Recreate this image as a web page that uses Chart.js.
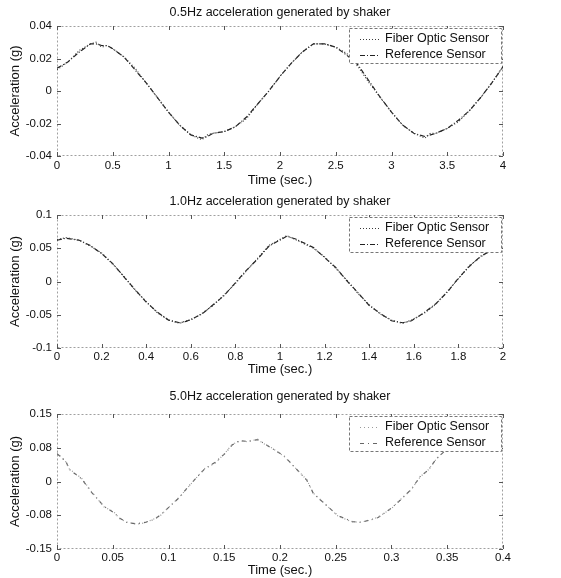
<!DOCTYPE html>
<html>
<head>
<meta charset="utf-8">
<script src="https://cdn.jsdelivr.net/npm/chart.js@4.4.1/dist/chart.umd.min.js"></script>
<style>
  body { margin: 0; background: #fff; width: 561px; height: 578px; position: relative; overflow: hidden; }
  canvas { position: absolute; left: 0; }
</style>
</head>
<body>
<canvas id="chart05" style="top:0px" width="561" height="190"></canvas>
<canvas id="chart10" style="top:189px" width="561" height="189"></canvas>
<canvas id="chart50" style="top:384px" width="561" height="194"></canvas>
<script>
/*          shaker acceleration: fiber optic vs reference sensor          */

const seriesLabels = ['Fiber Optic Sensor', 'Reference Sensor'];

// 0.5 Hz
const time05 = [0, 0.1, 0.2, 0.3, 0.35, 0.4, 0.45, 0.5, 0.6, 0.7, 0.8, 0.9, 1.0, 1.1, 1.2, 1.3, 1.35, 1.4, 1.5, 1.6, 1.7, 1.8, 1.9,
                2.0, 2.1, 2.2, 2.3, 2.4, 2.5, 2.6, 2.7, 2.8, 2.9, 3.0, 3.1, 3.2, 3.3, 3.35, 3.4, 3.5, 3.6, 3.7, 3.8, 3.9, 4.0];
const fiber05 = [0.013, 0.018, 0.025, 0.029, 0.030, 0.027, 0.028, 0.026, 0.021, 0.014, 0.005, -0.004, -0.013, -0.021, -0.027, -0.030, -0.027, -0.026, -0.025, -0.022, -0.017, -0.008, 0.000,
                 0.009, 0.017, 0.024, 0.029, 0.029, 0.027, 0.023, 0.015, 0.005, -0.004, -0.013, -0.021, -0.026, -0.029, -0.026, -0.026, -0.023, -0.019, -0.012, -0.004, 0.005, 0.015];
const ref05 = [0.014, 0.018, 0.024, 0.029, 0.029, 0.028, 0.028, 0.026, 0.021, 0.013, 0.005, -0.004, -0.013, -0.021, -0.027, -0.029, -0.028, -0.026, -0.025, -0.022, -0.016, -0.008, 0.000,
               0.009, 0.017, 0.024, 0.029, 0.029, 0.027, 0.022, 0.016, 0.006, -0.004, -0.013, -0.021, -0.026, -0.028, -0.027, -0.026, -0.023, -0.018, -0.012, -0.004, 0.005, 0.015];
const xTicks05 = [0, 0.5, 1, 1.5, 2, 2.5, 3, 3.5, 4];
const xLabels05 = ['0', '0.5', '1', '1.5', '2', '2.5', '3', '3.5', '4'];
const yTicks05 = [-0.04, -0.02, 0, 0.02, 0.04];
const yLabels05 = ['-0.04', '-0.02', '0', '0.02', '0.04'];

// 1.0 Hz
const time10 = [0, 0.04, 0.1, 0.15, 0.2, 0.25, 0.3, 0.35, 0.4, 0.45, 0.5, 0.55, 0.58, 0.6, 0.65, 0.7, 0.75, 0.8, 0.85, 0.9, 0.95,
                1.03, 1.07, 1.15, 1.2, 1.25, 1.3, 1.35, 1.4, 1.45, 1.5, 1.55, 1.59, 1.65, 1.7, 1.75, 1.8, 1.85, 1.9, 1.95];
const fiber10 = [0.063, 0.066, 0.062, 0.053, 0.043, 0.026, 0.008, -0.013, -0.030, -0.047, -0.058, -0.063, -0.059, -0.058, -0.048, -0.036, -0.020, -0.003, 0.016, 0.035, 0.054,
                 0.069, 0.063, 0.050, 0.037, 0.020, 0.002, -0.018, -0.035, -0.049, -0.058, -0.063, -0.058, -0.047, -0.034, -0.015, 0.004, 0.024, 0.037, 0.048];
const ref10 = [0.062, 0.065, 0.062, 0.054, 0.042, 0.027, 0.007, -0.012, -0.031, -0.046, -0.058, -0.062, -0.060, -0.057, -0.049, -0.035, -0.021, -0.002, 0.017, 0.034, 0.053,
               0.068, 0.064, 0.051, 0.036, 0.021, 0.001, -0.017, -0.036, -0.048, -0.059, -0.062, -0.059, -0.046, -0.033, -0.016, 0.005, 0.023, 0.038, 0.047];
const xTicks10 = [0, 0.2, 0.4, 0.6, 0.8, 1, 1.2, 1.4, 1.6, 1.8, 2];
const xLabels10 = ['0', '0.2', '0.4', '0.6', '0.8', '1', '1.2', '1.4', '1.6', '1.8', '2'];
const yTicks10 = [-0.1, -0.05, 0, 0.05, 0.1];
const yLabels10 = ['-0.1', '-0.05', '0', '0.05', '0.1'];

// 5.0 Hz
const time50 = [0, 0.008, 0.011, 0.022, 0.031, 0.042, 0.051, 0.056, 0.0625, 0.071, 0.079, 0.0875, 0.093, 0.11, 0.1175, 0.132, 0.142, 0.151, 0.157, 0.164,
                0.171, 0.18, 0.184, 0.1925, 0.2036, 0.224, 0.23, 0.252, 0.265, 0.273, 0.281, 0.288, 0.3, 0.308, 0.3175, 0.326, 0.333, 0.34, 0.347];
const fiber50 = [0.064, 0.043, 0.028, 0.0075, -0.0225, -0.056, -0.0675, -0.0825, -0.09, -0.095, -0.092, -0.0825, -0.075, -0.034, -0.013, 0.028, 0.041, 0.064, 0.0825, 0.09,
                 0.0885, 0.094, 0.086, 0.075, 0.056, 0.004, -0.026, -0.077, -0.09, -0.09, -0.086, -0.079, -0.06, -0.04, -0.019, 0.011, 0.026, 0.049, 0.0675];
const ref50 = [0.062, 0.045, 0.027, 0.006, -0.024, -0.055, -0.069, -0.081, -0.091, -0.094, -0.091, -0.084, -0.074, -0.035, -0.012, 0.027, 0.043, 0.063, 0.081, 0.091,
               0.089, 0.093, 0.087, 0.074, 0.057, 0.003, -0.027, -0.076, -0.089, -0.091, -0.085, -0.080, -0.059, -0.041, -0.018, 0.012, 0.025, 0.050, 0.066];
const xTicks50 = [0, 0.05, 0.1, 0.15, 0.2, 0.25, 0.3, 0.35, 0.4];
const xLabels50 = ['0', '0.05', '0.1', '0.15', '0.2', '0.25', '0.3', '0.35', '0.4'];
const yTicks50 = [-0.15, -0.075, 0, 0.075, 0.15];
const yLabels50 = ['-0.15', '-0.08', '0', '0.08', '0.15'];

Chart.defaults.font.family = '"Liberation Sans", Arial, sans-serif';
Chart.defaults.color = '#111';

// title centred over the plot area (matlab style), not over the whole canvas
const areaTitle = {
  id: 'areaTitle',
  afterDraw(chart, args, opts) {
    const { ctx, chartArea: a } = chart;
    ctx.save();
    ctx.font = '12.5px "Liberation Sans", Arial, sans-serif';
    ctx.fillStyle = '#111';
    ctx.textAlign = 'center';
    ctx.textBaseline = 'middle';
    ctx.fillText(opts.text, (a.left + a.right) / 2, opts.y);
    ctx.restore();
  }
};

// dotted axes box with small inward ticks
const framePlugin = {
  id: 'frame',
  beforeDatasetsDraw(chart) {
    const { ctx, chartArea: a, scales } = chart;
    ctx.save();
    ctx.lineWidth = 1;
    ctx.strokeStyle = '#a0a0a0';
    ctx.setLineDash([2, 2]);
    ctx.strokeRect(a.left + 0.5, a.top + 0.5, a.width - 1, a.height - 1);
    ctx.setLineDash([]);
    ctx.strokeStyle = '#555';
    ctx.beginPath();
    scales.x.ticks.forEach(t => {
      const px = Math.round(scales.x.getPixelForValue(t.value)) + 0.5;
      ctx.moveTo(px, a.top); ctx.lineTo(px, a.top + 4);
      ctx.moveTo(px, a.bottom); ctx.lineTo(px, a.bottom - 4);
    });
    scales.y.ticks.forEach(t => {
      const py = Math.round(scales.y.getPixelForValue(t.value)) + 0.5;
      ctx.moveTo(a.left, py); ctx.lineTo(a.left + 4, py);
      ctx.moveTo(a.right, py); ctx.lineTo(a.right - 4, py);
    });
    ctx.stroke();
    ctx.restore();
  }
};

// legend box in the upper right corner
const boxLegend = {
  id: 'boxLegend',
  afterDatasetsDraw(chart) {
    const { ctx, chartArea: a } = chart;
    const x0 = a.right - 154, y0 = a.top + 2, w = 153, h = 36;
    ctx.save();
    ctx.fillStyle = '#fff';
    ctx.fillRect(x0, y0, w, h);
    ctx.strokeStyle = '#777';
    ctx.lineWidth = 1;
    ctx.setLineDash([3, 2]);
    ctx.strokeRect(x0 + 0.5, y0 + 0.5, w - 1, h - 1);
    chart.data.datasets.forEach((ds, i) => {
      const y = y0 + 11 + i * 16;
      ctx.setLineDash(ds.borderDash || []);
      ctx.strokeStyle = ds.borderColor;
      ctx.beginPath();
      ctx.moveTo(x0 + 11, y + 0.5);
      ctx.lineTo(x0 + 30, y + 0.5);
      ctx.stroke();
      ctx.setLineDash([]);
      ctx.fillStyle = '#111';
      ctx.font = '12.5px "Liberation Sans", Arial, sans-serif';
      ctx.textBaseline = 'middle';
      ctx.fillText(ds.label, x0 + 36, y);
    });
    ctx.restore();
  }
};

function points(xs, ys) {
  return xs.map((x, i) => ({ x: x, y: ys[i] }));
}

function makeChart(id, p) {
  const ctx = document.getElementById(id).getContext('2d');
  return new Chart(ctx, {
    type: 'line',
    data: {
      datasets: [{
        label: seriesLabels[0],
        data: points(p.time, p.fiber),
        borderColor: p.fiberColor,
        borderDash: p.fiberDash,
        borderWidth: 1.2,
        pointRadius: 0,
        tension: 0
      }, {
        label: seriesLabels[1],
        data: points(p.time, p.ref),
        borderColor: p.refColor,
        borderDash: p.refDash,
        borderWidth: 1.2,
        pointRadius: 0,
        tension: 0
      }]
    },
    options: {
      responsive: false,
      animation: false,
      layout: { padding: { left: 0, right: 58, top: p.areaTop, bottom: 0 } },
      plugins: {
        legend: { display: false },
        tooltip: { enabled: false },
        title: { display: false },
        areaTitle: { text: p.title, y: p.titleY }
      },
      scales: {
        x: {
          type: 'linear',
          min: p.xTicks[0],
          max: p.xTicks[p.xTicks.length - 1],
          afterBuildTicks: s => { s.ticks = p.xTicks.map(v => ({ value: v })); },
          afterFit: s => { s.height = p.xHeight; },
          ticks: {
            autoSkip: false, maxRotation: 0, padding: p.xTickPad,
            font: { size: 11.5 }, color: '#111',
            callback: (v, i) => p.xLabels[i]
          },
          grid: { display: false, drawTicks: false },
          border: { display: false },
          title: { display: true, text: 'Time (sec.)', font: { size: 13 }, color: '#111', padding: { top: 0, bottom: p.xTitlePad } }
        },
        y: {
          type: 'linear',
          min: p.yTicks[0],
          max: p.yTicks[p.yTicks.length - 1],
          afterBuildTicks: s => { s.ticks = p.yTicks.map(v => ({ value: v })); },
          afterFit: s => { s.width = 57; },
          ticks: {
            padding: 5, font: { size: 11.5 }, color: '#111',
            callback: (v, i) => p.yLabels[i]
          },
          grid: { display: false, drawTicks: false },
          border: { display: false },
          title: { display: true, text: 'Acceleration (g)', font: { size: 13 }, color: '#111', padding: { top: 8, bottom: 0 } }
        }
      }
    },
    plugins: [framePlugin, boxLegend, areaTitle]
  });
}

makeChart('chart05', {
  title: '0.5Hz acceleration generated by shaker',
  time: time05, fiber: fiber05, ref: ref05,
  xTicks: xTicks05, xLabels: xLabels05, yTicks: yTicks05, yLabels: yLabels05,
  fiberColor: '#3a3a3a', fiberDash: [1, 2], refColor: '#222', refDash: [5, 2, 1, 2],
  areaTop: 26, titleY: 13, xHeight: 34, xTickPad: 3, xTitlePad: 2
});

makeChart('chart10', {
  title: '1.0Hz acceleration generated by shaker',
  time: time10, fiber: fiber10, ref: ref10,
  xTicks: xTicks10, xLabels: xLabels10, yTicks: yTicks10, yLabels: yLabels10,
  fiberColor: '#3a3a3a', fiberDash: [1, 2], refColor: '#222', refDash: [5, 2, 1, 2],
  areaTop: 26, titleY: 13, xHeight: 30, xTickPad: 2, xTitlePad: 1
});

makeChart('chart50', {
  title: '5.0Hz acceleration generated by shaker',
  time: time50, fiber: fiber50, ref: ref50,
  xTicks: xTicks50, xLabels: xLabels50, yTicks: yTicks50, yLabels: yLabels50,
  fiberColor: '#9a9a9a', fiberDash: [1, 3], refColor: '#666', refDash: [4, 4, 1, 4],
  areaTop: 30, titleY: 13, xHeight: 29, xTickPad: 2, xTitlePad: 0
});
</script>
</body>
</html>
